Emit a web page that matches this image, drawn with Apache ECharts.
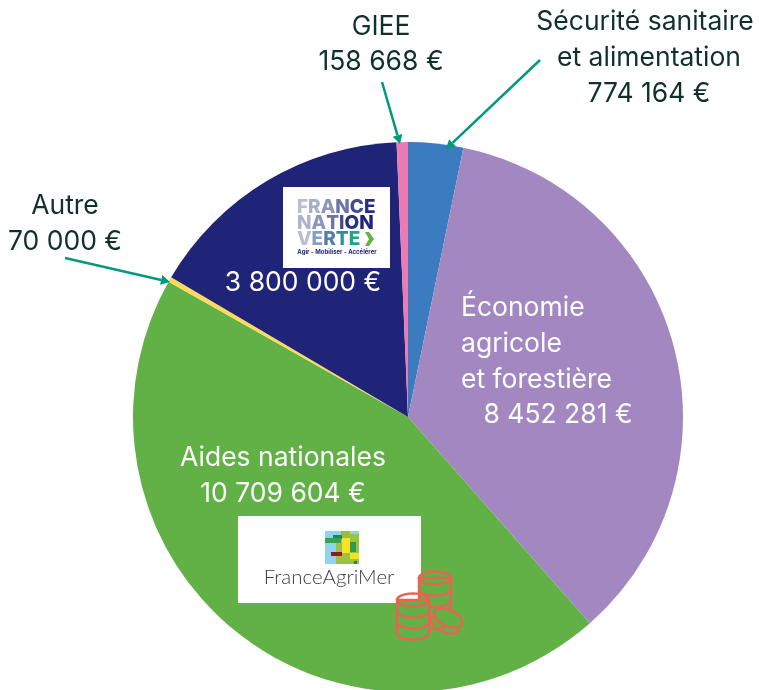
<!DOCTYPE html>
<html>
<head>
<meta charset="utf-8">
<style>
  html, body { margin: 0; padding: 0; background: #fff; }
  #chart { width: 759px; height: 690px; }
</style>
</head>
<body>
<div id="chart"></div>
<script src="https://cdn.jsdelivr.net/npm/echarts@6/dist/echarts.min.js"></script>
<script>
// clockwise from the top of the pie
const names = ['Sécurité sanitaire et alimentation', 'Économie agricole et forestière', 'Aides nationales', 'Autre', 'France Nation Verte', 'GIEE'];
const values = [774164, 8452281, 10709604, 70000, 3800000, 158668];
const colors = ['#3b7cc0', '#a287c0', '#62b146', '#ffd95a', '#1f2478', '#ec7ab5'];

const FONT = 'Inter';
const INK = '#10302a';
const TEAL = '#00997f';
const COIN = '#ea6350';

function euros(v) {
  return String(v).replace(/\B(?=(\d{3})+$)/g, ' ') + ' €';
}

function label(text, x, y, fill, align) {
  return {
    type: 'text', silent: true, x: x, y: y,
    style: { text: text, fill: fill, font: '400 26.5px ' + FONT, align: align || 'center', verticalAlign: 'middle' }
  };
}

function arrow(x1, y1, x2, y2) {
  const a = Math.atan2(y2 - y1, x2 - x1);
  const len = 9, w = 5;
  const bx = x2 - len * Math.cos(a), by = y2 - len * Math.sin(a);
  return [
    { type: 'line', silent: true, shape: { x1: x1, y1: y1, x2: bx, y2: by }, style: { stroke: TEAL, lineWidth: 2.5 } },
    { type: 'polygon', silent: true, shape: { points: [
      [x2, y2],
      [bx - w * Math.sin(a), by + w * Math.cos(a)],
      [bx + w * Math.sin(a), by - w * Math.cos(a)]
    ] }, style: { fill: TEAL } }
  ];
}

function rect(x, y, w, h, fill) {
  return { type: 'rect', silent: true, shape: { x: x, y: y, width: w, height: h }, style: { fill: fill } };
}

// France Nation Verte logo, letters fade from grey to the final colour
function fnvWord(text, y, shades) {
  const rich = {};
  let s = '';
  text.split('').forEach((c, i) => {
    rich['c' + i] = { fill: shades[i], font: '800 19px Inter' };
    s += '{c' + i + '|' + c + '}';
  });
  return { type: 'text', silent: true, x: 297, y: y, style: { text: s, rich: rich, verticalAlign: 'middle' } };
}
const fnvLogo = [
  rect(283, 187, 107, 81, '#fff'),
  fnvWord('FRANCE', 207, ['#b9bdd0', '#a9aec8', '#8f95ba', '#6c73a5', '#454c8e', '#2a3080']),
  fnvWord('NATION', 223, ['#aeb2cb', '#8f95ba', '#6c73a5', '#454c8e', '#2a3080', '#1f2478']),
  fnvWord('VERTE', 239, ['#b9bdd0', '#8a9fbe', '#4f7fa6', '#2b8f9a', '#1fa38a']),
  { type: 'polygon', silent: true, shape: { points: [[365, 232], [369, 232], [374, 239], [369, 246], [365, 246], [369, 239]] }, style: { fill: '#63b245' } },
  { type: 'text', silent: true, x: 337, y: 252, style: { text: 'Agir - Mobiliser - Accélérer', font: '700 6px Inter', fill: '#1f2478', align: 'center', verticalAlign: 'middle' } }
];

// FranceAgriMer logo
const famTiles = [
  [325, 531, 34, 33, '#8fd3ee'], [336, 537, 23, 27, '#9cc23e'], [341, 531, 9, 7, '#9cba3e'],
  [333, 535, 9, 4, '#1e8a4e'], [325, 538, 16, 5, '#35a34f'], [350, 534, 9, 8, '#9cc23e'],
  [342, 538, 8, 15, '#f4e423'], [350, 542, 6, 10, '#2d9a4f'], [331, 552, 11, 4, '#8e1c1c'],
  [350, 553, 9, 6, '#f4e423'], [354, 561, 3, 3, '#1e8a4e']
];
const famLogo = [rect(238, 516, 183, 87, '#fff')]
  .concat(famTiles.map(t => rect(t[0], t[1], t[2], t[3], t[4])))
  .concat([{ type: 'text', silent: true, x: 329, y: 577, style: { text: 'FranceAgriMer', font: '300 20.5px Lato', fill: '#3c3c3c', align: 'center', verticalAlign: 'middle' } }]);

// coin stacks icon: the graphic component has no ellipse, so ovals are sampled
function ovalPoints(cx, cy, rx, ry, from, to, rot) {
  const pts = [];
  const r = rot || 0;
  for (let i = 0; i <= 32; i++) {
    const t = from + (to - from) * i / 32;
    const x = rx * Math.cos(t), y = ry * Math.sin(t);
    pts.push([cx + x * Math.cos(r) - y * Math.sin(r), cy + x * Math.sin(r) + y * Math.cos(r)]);
  }
  return pts;
}
function coinLine(points) {
  return { type: 'polyline', silent: true, shape: { points: points }, style: { fill: 'none', stroke: COIN, lineWidth: 2.5 } };
}
function coinStack(cx, top, rx, ry, rows, gap) {
  const out = [];
  // body of the stack, open on top
  const bottom = ovalPoints(cx, top + rows * gap, rx, ry, Math.PI, 0);
  out.push({ type: 'polygon', silent: true, shape: { points: [[cx - rx, top]].concat(bottom, [[cx + rx, top]]) }, style: { fill: '#62b146', stroke: COIN, lineWidth: 2.5 } });
  for (let i = 1; i < rows; i++) {
    out.push(coinLine(ovalPoints(cx, top + i * gap, rx, ry, Math.PI, 0)));
  }
  out.push(coinLine(ovalPoints(cx, top, rx, ry, 0, Math.PI * 2)));
  return out;
}
const coins = coinStack(435, 578, 16, 6.5, 4, 11)
  .concat(coinStack(413, 600, 16, 6.5, 3, 11))
  .concat([
    coinLine(ovalPoints(445, 624, 15, 8, -0.2, Math.PI + 0.2, 0.45)),
    { type: 'polygon', silent: true, shape: { points: ovalPoints(448, 618, 15, 8, 0, Math.PI * 2, 0.45) }, style: { fill: '#62b146', stroke: COIN, lineWidth: 2.5 } }
  ]);

const labels = [
  label('GIEE', 381, 27, INK),
  label(euros(values[5]), 381, 62, INK),
  label('Sécurité sanitaire', 645, 22, INK),
  label('et alimentation', 649, 58, INK),
  label(euros(values[0]), 649, 94, INK),
  label('Autre', 65, 206, INK),
  label(euros(values[3]), 65, 242, INK),
  label(euros(values[4]), 303, 283, '#fff'),
  label('Économie', 461, 308, '#fff', 'left'),
  label('agricole', 461, 344, '#fff', 'left'),
  label('et forestière', 461, 380, '#fff', 'left'),
  label(euros(values[1]), 558, 415, '#fff'),
  label('Aides nationales', 283, 458, '#fff'),
  label(euros(values[2]), 283, 494, '#fff')
];

const arrows = [].concat(
  arrow(382, 82, 400, 144),
  arrow(540, 60, 446, 149),
  arrow(65, 258, 170, 282)
);

// the pie sits at z 2, everything drawn by hand goes above it, in list order
const overlay = fnvLogo.concat(famLogo, coins, labels, arrows).map(el => Object.assign(el, { z: 10 }));

const chart = echarts.init(document.getElementById('chart'), null, { renderer: 'canvas' });
chart.setOption({
  animation: false,
  series: [{
    type: 'pie',
    center: [408, 417],
    radius: [0, 275],
    startAngle: 90,
    clockwise: true,
    silent: true,
    itemStyle: { borderWidth: 0 },
    label: { show: false },
    labelLine: { show: false },
    data: names.map((n, i) => ({ name: n, value: values[i], itemStyle: { color: colors[i] } }))
  }],
  graphic: { elements: overlay }
});
</script>
</body>
</html>
